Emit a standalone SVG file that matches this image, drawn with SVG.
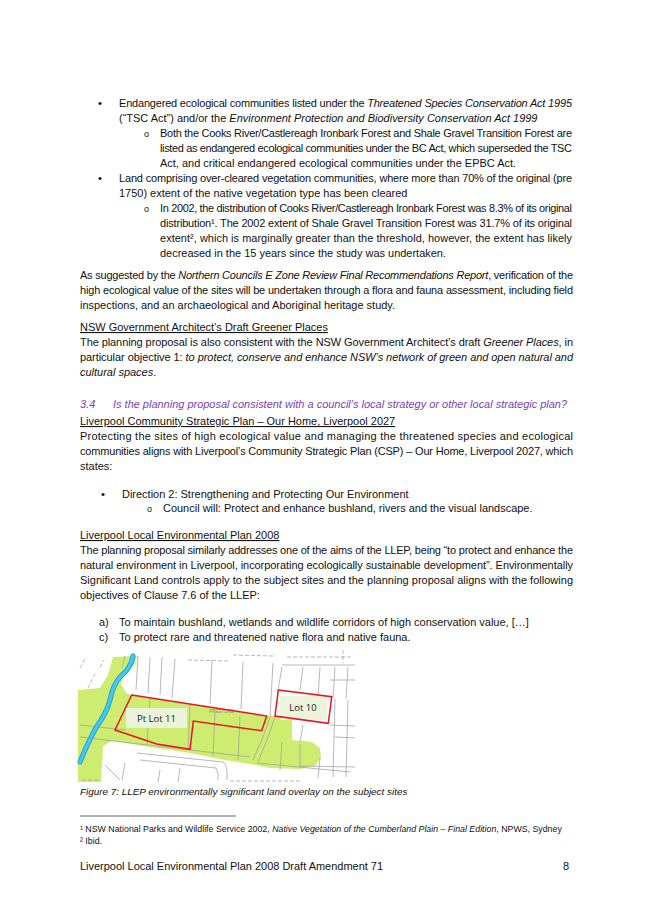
<svg xmlns="http://www.w3.org/2000/svg" width="653" height="923" viewBox="0 0 653 923">
<style>
.t{font-family:"Liberation Sans",Arial,sans-serif;font-size:10.97px;fill:#111}
.i{font-style:italic}
.u{text-decoration:underline}
.h{fill:#7b3fb5;font-style:italic}
.fn{font-size:8.8px}
.cap{font-size:9.9px;font-style:italic}
.b{font-size:11.5px}
.o{font-size:9px}
.g{fill:none;stroke:#a0a0a0;stroke-width:0.75}
.gd{fill:none;stroke:#a0a0a0;stroke-width:0.75;stroke-dasharray:4 2}
.lbl{font-family:"Open Sans","Noto Sans",sans-serif;font-size:9.5px;fill:#222}
</style>
<rect width="653" height="923" fill="#fff"/>

<g id="bullets-top" class="t">
<text x="98" y="107" class="b">•</text>
<text x="119" y="107" textLength="453" lengthAdjust="spacing">Endangered ecological communities listed under the <tspan class="i">Threatened Species Conservation Act 1995</tspan></text>
<text x="119" y="122">(“TSC Act”) and/or the <tspan class="i">Environment Protection and Biodiversity Conservation Act 1999</tspan></text>
<text x="144" y="137" class="o">o</text>
<text x="160" y="137" textLength="412" lengthAdjust="spacing">Both the Cooks River/Castlereagh Ironbark Forest and Shale Gravel Transition Forest are</text>
<text x="160" y="152" textLength="412" lengthAdjust="spacing">listed as endangered ecological communities under the BC Act, which superseded the TSC</text>
<text x="160" y="167">Act, and critical endangered ecological communities under the EPBC Act.</text>
<text x="98" y="182" class="b">•</text>
<text x="119" y="182" textLength="453" lengthAdjust="spacing">Land comprising over-cleared vegetation communities, where more than 70% of the original (pre</text>
<text x="119" y="197">1750) extent of the native vegetation type has been cleared</text>
<text x="144" y="212" class="o">o</text>
<text x="160" y="212" textLength="412" lengthAdjust="spacing">In 2002, the distribution of Cooks River/Castlereagh Ironbark Forest was 8.3% of its original</text>
<text x="160" y="227" textLength="412" lengthAdjust="spacing">distribution¹. The 2002 extent of Shale Gravel Transition Forest was 31.7% of its original</text>
<text x="160" y="242" textLength="412" lengthAdjust="spacing">extent², which is marginally greater than the threshold, however, the extent has likely</text>
<text x="160" y="257">decreased in the 15 years since the study was undertaken.</text>
</g>

<g id="para-suggested" class="t">
<text x="80" y="279" textLength="493" lengthAdjust="spacing">As suggested by the <tspan class="i">Northern Councils E Zone Review Final Recommendations Report</tspan>, verification of the</text>
<text x="80" y="294" textLength="493" lengthAdjust="spacing">high ecological value of the sites will be undertaken through a flora and fauna assessment, including field</text>
<text x="80" y="309">inspections, and an archaeological and Aboriginal heritage study.</text>
</g>

<g id="para-greener" class="t">
<text x="80" y="331" class="u">NSW Government Architect’s Draft Greener Places</text>
<text x="80" y="346" textLength="493" lengthAdjust="spacing">The planning proposal is also consistent with the NSW Government Architect’s draft <tspan class="i">Greener Places</tspan>, in</text>
<text x="80" y="361" textLength="493" lengthAdjust="spacing">particular objective 1: <tspan class="i">to protect, conserve and enhance NSW’s network of green and open natural and</tspan></text>
<text x="80" y="376"><tspan class="i">cultural spaces</tspan>.</text>
</g>

<g id="heading-3-4" class="t">
<text x="80" y="408" class="h">3.4</text>
<text x="113" y="408" class="h">Is the planning proposal consistent with a council’s local strategy or other local strategic plan?</text>
</g>

<g id="para-csp" class="t">
<text x="80" y="425" class="u">Liverpool Community Strategic Plan – Our Home, Liverpool 2027</text>
<text x="80" y="440" textLength="493" lengthAdjust="spacing">Protecting the sites of high ecological value and managing the threatened species and ecological</text>
<text x="80" y="455" textLength="493" lengthAdjust="spacing">communities aligns with Liverpool’s Community Strategic Plan (CSP) – Our Home, Liverpool 2027, which</text>
<text x="80" y="470">states:</text>
<text x="101" y="498" class="b">•</text>
<text x="122" y="498">Direction 2: Strengthening and Protecting Our Environment</text>
<text x="147" y="512" class="o">o</text>
<text x="163" y="512">Council will: Protect and enhance bushland, rivers and the visual landscape.</text>
</g>

<g id="para-llep" class="t">
<text x="80" y="539" class="u">Liverpool Local Environmental Plan 2008</text>
<text x="80" y="554" textLength="493" lengthAdjust="spacing">The planning proposal similarly addresses one of the aims of the LLEP, being “to protect and enhance the</text>
<text x="80" y="569" textLength="493" lengthAdjust="spacing">natural environment in Liverpool, incorporating ecologically sustainable development”. Environmentally</text>
<text x="80" y="584" textLength="493" lengthAdjust="spacing">Significant Land controls apply to the subject sites and the planning proposal aligns with the following</text>
<text x="80" y="599">objectives of Clause 7.6 of the LLEP:</text>
<text x="99" y="626">a)</text>
<text x="119" y="626">To maintain bushland, wetlands and wildlife corridors of high conservation value, […]</text>
<text x="99" y="641">c)</text>
<text x="119" y="641">To protect rare and threatened native flora and native fauna.</text>
</g>

<g id="map">
<path fill="#cdec70" d="M78,690 L100,688 L108,675 L113,657 L137,656 L135,664 L125,672 L121,684 L126,693 L131,695 L267,716 L276,716 L292,720 L292,740 L312,742 L320,748 L321,758 L315,766 L300,769 L270,768 L250,764 L225,760 L190,753 L150,747 L112,741 L103,746 L101,782 L78,782 Z"/>
<g>
<path class="gd" d="M80,668 L86,657 M88,688 L96,672 M100,667 L104,660"/>
<path class="g" d="M125,656 L122,668 M138,656 L136,690 M150,657 L148,693 M162,657 L160,695 M175,659 L172,698 M212,660 L210,704 M243,662 L241,709"/>
<path class="gd" d="M188,660 L230,661 M233,655 L273,656 M287,657 L353,657 M343,650 L343,663 M82,780 L100,780 M230,781 L300,781"/>
<path class="g" d="M273,663 L270,717 L263,737 L253,760 M282,667 L278,690 M275,717 L267,740 L258,762"/>
<path class="g" d="M282,665 L355,665 M330,680 L355,680 M303,667 L300,690 M320,667 L318,697 M335,667 L333,698 M348,667 L346,699"/>
<path class="g" d="M330,725 L355,726 M335,737 L355,738 M300,766 L355,767 M257,763 L350,772 M303,725 L300,742 M335,699 L333,777 M348,700 L346,777 M282,742 L280,770 M300,744 L300,768 M320,758 L318,778"/>
<path class="g" d="M80,725 L126,730 M80,737 L250,757 M137,753 L223,762 Q228,765 227,780 M140,760 L216,768 Q219,772 218,780 M105,765 L120,780 M125,763 L122,780 M160,770 L158,782 M180,768 L178,782"/>
<path class="g" d="M150,697 L147,745 M190,704 L188,750 M215,712 L213,756 M240,716 L238,760"/>
</g>
<text x="209" y="713" font-family="Liberation Sans,Arial,sans-serif" font-size="4.5" fill="#888">PRESTONS</text>
<path fill="none" stroke="#1e9cd0" stroke-width="5" stroke-linecap="round" d="M133,656 Q131,668 121,676 Q113,684 110,700 Q106,714 97,726 Q88,742 80,762"/>
<path fill="none" stroke="#44c9ef" stroke-width="3.2" stroke-linecap="round" d="M133,656 Q131,668 121,676 Q113,684 110,700 Q106,714 97,726 Q88,742 80,762"/>
<g id="pt-lot-11">
<path fill="none" stroke="#e8141e" stroke-width="1.5" d="M131.7,695 L266.7,716 L261.7,730.7 L193.3,721 L190,749.3 L156.7,744 L115,730 Z"/>
<rect x="126" y="708" width="61" height="20" fill="#ebf3d8"/>
<text x="156.5" y="722" text-anchor="middle" class="lbl">Pt Lot 11</text>
</g>
<g id="lot-10">
<rect x="280" y="696" width="47" height="24" fill="#eef3dd"/>
<path fill="none" stroke="#e8141e" stroke-width="1.5" d="M278.3,690 L331.7,696.7 L328.3,723.3 L275,716 Z"/>
<text x="303" y="711" text-anchor="middle" class="lbl">Lot 10</text>
</g>
</g>

<g id="caption" class="t">
<text x="80" y="795" class="cap">Figure 7: LLEP environmentally significant land overlay on the subject sites</text>
</g>

<g id="footnotes" class="t">
<line x1="80" y1="816" x2="236" y2="816" stroke="#222" stroke-width="0.7"/>
<text x="80" y="832" class="fn">¹ NSW National Parks and Wildlife Service 2002, <tspan class="i">Native Vegetation of the Cumberland Plain – Final Edition</tspan>, NPWS, Sydney</text>
<text x="80" y="844" class="fn">² Ibid.</text>
</g>

<g id="footer" class="t">
<text x="80" y="870">Liverpool Local Environmental Plan 2008 Draft Amendment 71</text>
<text x="563" y="870">8</text>
</g>
</svg>
